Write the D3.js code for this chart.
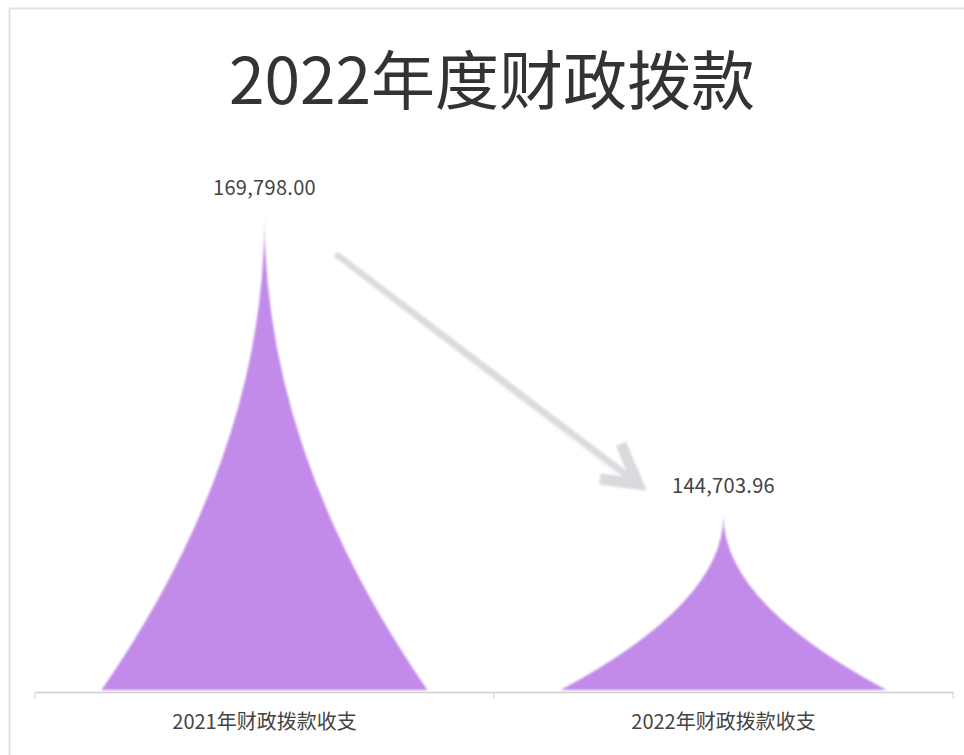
<!DOCTYPE html>
<html><head><meta charset="utf-8">
<script src="https://cdn.jsdelivr.net/npm/d3@7/dist/d3.min.js"></script>
<style>
html,body{margin:0;padding:0;background:#fff;}
svg{display:block;}
</style></head>
<body>
<svg id="chart" width="964" height="755"></svg>
<script>
const title = "2022年度财政拨款";
const categories = ["2021年财政拨款收支", "2022年财政拨款收支"];
const values = [169798.00, 144703.96];
const yDomain = [130000, 170000];

const svg = d3.select("#chart");
const W = 964, H = 755;
const margin = {left: 35, right: 11, top: 215, bottom: 65};
const baseY = H - margin.bottom; // 690

const defs = svg.append("defs");
const f = defs.append("filter").attr("id","soft").attr("x","-5%").attr("y","-5%").attr("width","110%").attr("height","110%");
f.append("feGaussianBlur").attr("stdDeviation", 1.3);

// frame
svg.append("path").attr("d", `M9.5,${H} L9.5,8.5 L${W},8.5`)
  .attr("fill","none").attr("stroke","#e2e2e2").attr("stroke-width",2);

const x = d3.scaleBand().domain(categories).range([margin.left, W - margin.right]).padding(0);
const y = d3.scaleLinear().domain(yDomain).range([baseY, margin.top]);

svg.append("text").attr("x", 492).attr("y", 104).attr("text-anchor","middle")
  .attr("font-family","'Noto Sans CJK SC', sans-serif").attr("font-size", 64)
  .attr("fill","#333").text(title);

// bars (pictorial peaks): symbol path in a 10x10 box
const symW = x.bandwidth() * 0.71;
function peak(cx, top, bottom, w) {
  const h = bottom - top, l = cx - w/2;
  const px = t => l + t * w / 10, py = t => top + t * h / 10;
  return `M${px(0)},${py(10)} L${px(10)},${py(10)} Q${px(5)},${py(5)} ${px(5)},${py(0)} Q${px(5)},${py(5)} ${px(0)},${py(10)} Z`;
}
svg.append("g").selectAll("path").data(values).join("path")
  .attr("d", (d,i) => peak(x(categories[i]) + x.bandwidth()/2, y(d), y(yDomain[0]), symW))
  .attr("fill","#c28ae9").attr("filter","url(#soft)");

// value labels
svg.append("g").selectAll("text").data(values).join("text")
  .attr("x", (d,i) => x(categories[i]) + x.bandwidth()/2)
  .attr("y", d => y(d) - 22)
  .attr("text-anchor","middle")
  .attr("font-family","'Noto Sans CJK SC', sans-serif").attr("font-size", 20)
  .attr("letter-spacing", 0.3)
  .attr("fill","#444")
  .text(d => d3.format(",.2f")(d));

// axis
const ax = svg.append("g").attr("transform", `translate(0,${baseY + 2})`)
  .call(d3.axisBottom(x).tickSize(0).tickPadding(23));
ax.select(".domain").attr("stroke","#cfcfcf").attr("stroke-width",1.5);
ax.selectAll(".tick text").attr("font-family","'Noto Sans CJK SC', sans-serif")
  .attr("font-size", 20).attr("fill","#444");
const bounds = [margin.left, ...categories.slice(1).map(c => x(c)), W - margin.right];
ax.selectAll("line.sep").data(bounds).join("line").attr("class","sep")
  .attr("x1", d => d).attr("x2", d => d).attr("y1", 0).attr("y2", 7)
  .attr("stroke","#d8d8d8").attr("stroke-width",1.2);

// arrow
const ag = svg.append("g").attr("filter","url(#soft)");
const x0 = 338, y0 = 256, x1 = 641, y1 = 486;
ag.append("line").attr("x1", x0).attr("y1", y0).attr("x2", x1 - 8).attr("y2", y1 - 6)
  .attr("stroke","#dcdce0").attr("stroke-width",7).attr("stroke-linecap","round");
ag.append("line").attr("x1", x0 - 1).attr("y1", y0 + 3).attr("x2", x1 - 20).attr("y2", y1 - 8)
  .attr("stroke","#f4f4f6").attr("stroke-width",1.3);
ag.append("path").attr("d", `M${x1-20},${y1-42} L${x1-3},${y1-2} L${x1-41},${y1-7}`)
  .attr("fill","none").attr("stroke","#d9d9de").attr("stroke-width",11)
  .attr("stroke-linejoin","miter").attr("stroke-linecap","butt");
</script>
</body></html>
